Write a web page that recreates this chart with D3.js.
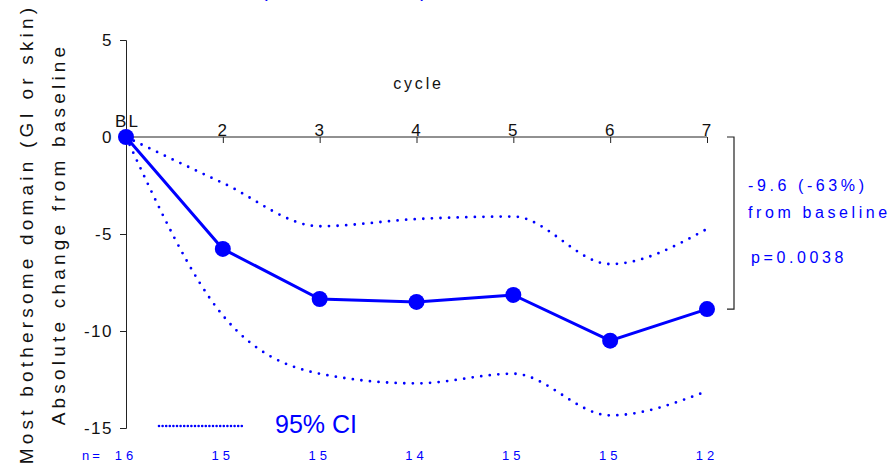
<!DOCTYPE html>
<html>
<head>
<meta charset="utf-8">
<script src="https://cdn.jsdelivr.net/npm/d3@7"></script>
<style>
  body { margin: 0; background: #fff; }
  svg { font-family: "Liberation Sans", Arial, sans-serif; }
</style>
</head>
<body>
<div id="chart"></div>
<script>
// data
var cycles = ["BL", "2", "3", "4", "5", "6", "7"];
var meanChange = [0, -5.77, -8.35, -8.5, -8.14, -10.5, -8.87];
var upperCI = [0, -2.37, -4.6, -4.23, -4.1, -6.55, -4.74];
var lowerCI = [0, -9.2, -12.2, -12.7, -12.2, -14.35, -13.1];
var nPatients = [16, 15, 15, 14, 15, 15, 12];
var yTicks = [5, 0, -5, -10, -15];
var changeText = ["-9.6 (-63%)", "from baseline"];
var pText = "p=0.0038";

var width = 891, height = 463;
var blue = "#0000ff";

var svg = d3.select("#chart").append("svg")
    .attr("width", width)
    .attr("height", height);

var x = d3.scalePoint().domain(cycles).range([126, 707]);
var y = d3.scaleLinear().domain([-15, 5]).range([428, 40]);

// cut-off title at the top
svg.append("text")
    .attr("x", 345).attr("y", -3)
    .attr("text-anchor", "middle")
    .style("font-size", "20px")
    .style("letter-spacing", "2px")
    .attr("fill", blue)
    .text("(mean, 95% CI)");

// y axis
var yAxis = svg.append("g")
    .attr("transform", "translate(" + x("BL") + ",0)")
    .call(d3.axisLeft(y).tickValues(yTicks).tickSize(6).tickPadding(7).tickFormat(d3.format("d")));
yAxis.select(".domain").attr("stroke", "#222");
yAxis.selectAll(".tick line").attr("stroke", "#222");
yAxis.selectAll(".tick text")
    .style("font-size", "17px")
    .style("letter-spacing", "1.5px")
    .attr("fill", "#111")
    .text(function(d) { return d < 0 ? "-" + Math.abs(d) : d; });

// x axis along zero, ticks down, labels above
var xAxis = svg.append("g")
    .attr("transform", "translate(0," + y(0) + ")")
    .call(d3.axisBottom(x).tickSize(6).tickSizeOuter(0));
xAxis.select(".domain").attr("stroke", "#222").attr("d", "M" + x("BL") + ",0H" + x("7"));
xAxis.selectAll(".tick line").attr("stroke", "#222");
xAxis.selectAll(".tick text")
    .attr("y", -1)
    .attr("dy", 0)
    .style("font-size", "17px")
    .style("letter-spacing", "2px")
    .attr("fill", "#111");
var blTick = xAxis.selectAll(".tick").filter(function(d) { return d == "BL"; });
blTick.select("line").remove();
blTick.select("text").attr("y", -10).attr("x", 1);

svg.append("text")
    .attr("x", x("4") + 2).attr("y", 89)
    .attr("text-anchor", "middle")
    .style("font-size", "16px")
    .style("letter-spacing", "2.8px")
    .attr("fill", "#111")
    .text("cycle");

// y axis title, two lines
var yTitle = ["Most bothersome domain (GI or skin)", "Absolute change from baseline"];
svg.selectAll(".ytitle")
    .data(yTitle)
  .enter().append("text")
    .attr("class", "ytitle")
    .attr("transform", function(d, i) { return "translate(" + (33 + i * 32) + ",234) rotate(-90)"; })
    .attr("text-anchor", "middle")
    .style("font-size", "19px")
    .style("letter-spacing", "4.2px")
    .attr("fill", "#111")
    .text(function(d) { return d; });

// confidence interval curves
var ciLine = d3.line()
    .x(function(d, i) { return x(cycles[i]); })
    .y(function(d) { return y(d); })
    .curve(d3.curveMonotoneX);

[upperCI, lowerCI].forEach(function(series) {
  svg.append("path")
      .datum(series)
      .attr("d", ciLine)
      .attr("fill", "none")
      .attr("stroke", blue)
      .attr("stroke-width", 2.8)
      .attr("stroke-linecap", "round")
      .attr("stroke-dasharray", "0,8.6");
});

// mean line
var meanLine = d3.line()
    .x(function(d, i) { return x(cycles[i]); })
    .y(function(d) { return y(d); });

svg.append("path")
    .datum(meanChange)
    .attr("d", meanLine)
    .attr("fill", "none")
    .attr("stroke", blue)
    .attr("stroke-width", 3);

svg.selectAll(".dot")
    .data(meanChange)
  .enter().append("circle")
    .attr("class", "dot")
    .attr("cx", function(d, i) { return x(cycles[i]); })
    .attr("cy", function(d) { return y(d); })
    .attr("r", 8)
    .attr("fill", blue);

// bracket from baseline to last cycle
var bx = 734;
svg.append("path")
    .attr("d", "M" + (bx - 7) + "," + y(0) + "H" + bx + "V" + y(meanChange[6]) + "H" + (bx - 7))
    .attr("fill", "none")
    .attr("stroke", "#222")
    .attr("stroke-width", 1.2);

svg.selectAll(".chg")
    .data(changeText)
  .enter().append("text")
    .attr("class", "chg")
    .attr("x", 748)
    .attr("y", function(d, i) { return 191 + i * 27; })
    .style("font-size", "16px")
    .style("letter-spacing", "3.6px")
    .attr("fill", blue)
    .text(function(d) { return d; });

svg.append("text")
    .attr("x", 751).attr("y", 263)
    .style("font-size", "16px")
    .style("letter-spacing", "3.6px")
    .attr("fill", blue)
    .text(pText);

// legend
svg.append("line")
    .attr("x1", 159).attr("x2", 242)
    .attr("y1", 426).attr("y2", 426)
    .attr("stroke", blue)
    .attr("stroke-width", 2.6)
    .attr("stroke-linecap", "round")
    .attr("stroke-dasharray", "0,3.6");

svg.append("text")
    .attr("x", 275).attr("y", 433)
    .style("font-size", "25px")
    .attr("fill", blue)
    .text("95% CI");

// patient numbers
svg.append("text")
    .attr("x", 82).attr("y", 460)
    .style("font-size", "13px")
    .style("letter-spacing", "3px")
    .attr("fill", blue)
    .text("n=");

svg.selectAll(".nval")
    .data(nPatients)
  .enter().append("text")
    .attr("class", "nval")
    .attr("x", function(d, i) { return x(cycles[i]); })
    .attr("y", 460)
    .attr("text-anchor", "middle")
    .style("font-size", "13px")
    .style("letter-spacing", "4px")
    .attr("fill", blue)
    .text(function(d) { return d; });
</script>
</body>
</html>
